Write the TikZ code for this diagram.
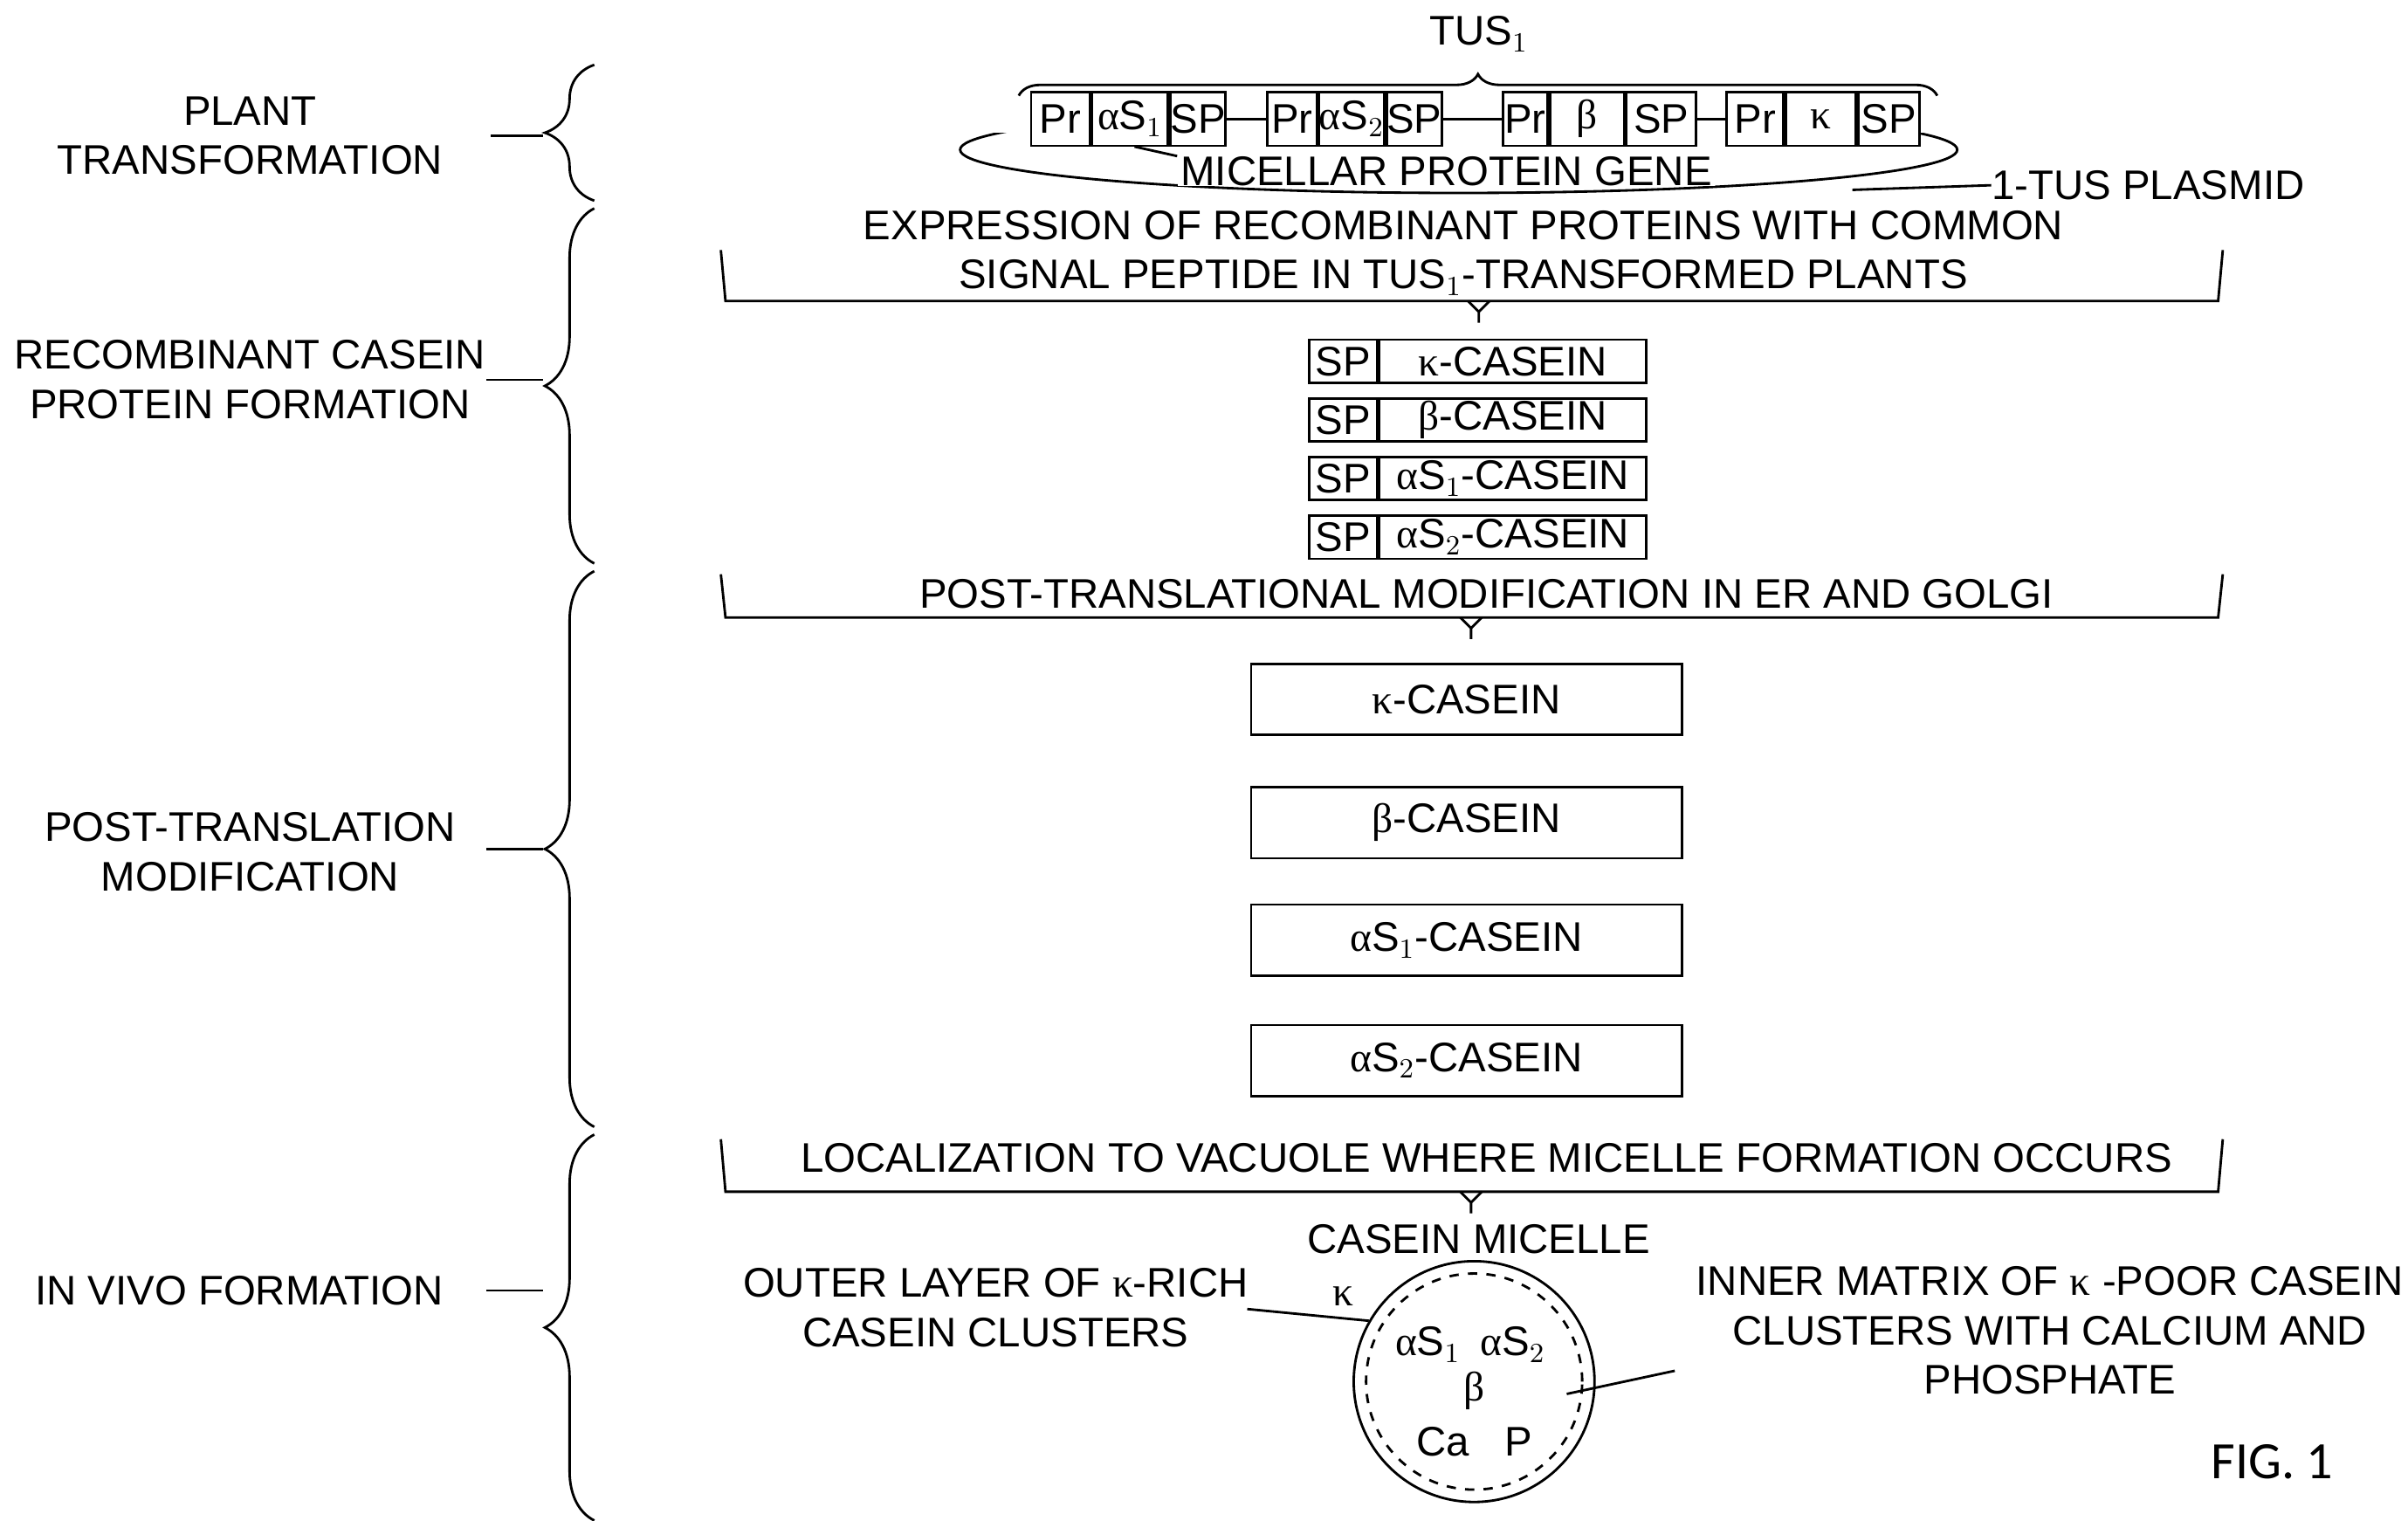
\documentclass[tikz,border=0pt]{standalone}
\usepackage{fontspec}
\setmainfont{Liberation Sans}
\newfontfamily\figfont{Carlito}
\newfontfamily\grk{Liberation Serif}
\newcommand{\ga}{{\grk α}}
\newcommand{\gb}{{\grk β}}
\newcommand{\gk}{{\grk κ}}
\usetikzlibrary{positioning,decorations.pathreplacing}
\tikzset{
  txt/.style={align=center,inner sep=0pt,font=\fontsize{13.4}{16}\selectfont},
  gbox/.style={draw,thick,inner sep=0pt,minimum height=17.5pt,font=\fontsize{13.4}{14}\selectfont},
  cbox/.style={draw,thick,inner sep=0pt,minimum height=14pt,font=\fontsize{13.4}{14}\selectfont},
  pbox/.style={draw,thick,inner sep=0pt,minimum width=139.5pt,minimum height=23pt,font=\fontsize{13.4}{14}\selectfont},
  lbrace/.style={decorate,decoration={brace,amplitude=16pt},thick},
  tick/.style={thick}
}
\newcommand{\stepbracket}[3]{% y top, y bottom, x tip
  \draw[thick] (467,#1) -- (470,#2) -- (1437,#2) -- (1440,#1);
  \draw[thick] (#3-7,#2) -- (#3,#2+7) -- (#3+7,#2) (#3,#2+7) -- (#3,#2+14);
}
\begin{document}
\begin{tikzpicture}[x=0.5pt,y=-0.5pt]
\useasboundingbox (0,0) rectangle (1560,985);

% left column
\node[txt] (plant) at (162,88) {PLANT\\TRANSFORMATION};
\node[txt] (recomb) at (162,246) {RECOMBINANT CASEIN\\PROTEIN FORMATION};
\node[txt] (post) at (162,552) {POST-TRANSLATION\\MODIFICATION};
\node[txt] (vivo) at (155,836) {IN VIVO FORMATION};
\draw[lbrace] (385,130) -- (385,42);
\draw[lbrace] (385,365) -- (385,135);
\draw[lbrace] (385,730) -- (385,370);
\draw[lbrace] (385,985) -- (385,735);
\draw[tick] (318,88) -- (352,88);
\draw[tick] (315,246) -- (352,246);
\draw[tick] (315,550) -- (352,550);
\draw[tick] (315,836) -- (352,836);

% plasmid with the gene cassette
\begin{scope}
  \clip (0,86) rectangle (1560,200);
  \draw[thick] (945,97) ellipse [x radius=323, y radius=28];
\end{scope}
\node[txt] (tus) at (958,22) {TUS$_1$};
\draw[decorate,decoration={brace,amplitude=7pt},thick] (660,62) -- (1255,62);
\node[gbox,minimum width=19pt,fill=white] (pr1) at (687,77) {Pr};
\node[gbox,minimum width=24.5pt,fill=white,right=0pt of pr1] (as1) {\ga S$_1$};
\node[gbox,minimum width=17.5pt,fill=white,right=0pt of as1] (sp1) {SP};
\node[gbox,minimum width=16pt,fill=white] (pr2) at (837,77) {Pr};
\node[gbox,minimum width=18pt,fill=white,right=0pt of pr2] (as2) {\ga S$_2$};
\node[gbox,minimum width=17pt,fill=white,right=0pt of as2] (sp2) {SP};
\node[gbox,minimum width=14.5pt,fill=white] (pr3) at (988,77) {Pr};
\node[gbox,minimum width=24pt,fill=white,right=0pt of pr3] (b3) {\gb};
\node[gbox,minimum width=22.5pt,fill=white,right=0pt of b3] (sp3) {SP};
\node[gbox,minimum width=18.5pt,fill=white] (pr4) at (1137,77) {Pr};
\node[gbox,minimum width=22.5pt,fill=white,right=0pt of pr4] (k4) {\gk};
\node[gbox,minimum width=20pt,fill=white,right=0pt of k4] (sp4) {SP};
\draw[thick] (sp1) -- (pr2) (sp2) -- (pr3) (sp3) -- (pr4);
\node[txt,fill=white,inner xsep=1pt] (gene) at (937,111) {MICELLAR PROTEIN GENE};
\coordinate (as1b) at (735,95);
\draw[thick] (as1b) -- (gene.north west);
\node[txt,anchor=west] (plasmid) at (1290,120) {1-TUS PLASMID};
\coordinate (plas) at (1200,123);
\draw[thick] (plas) -- (plasmid.west);

% expression step
\node[txt] (expr) at (948,164) {EXPRESSION OF RECOMBINANT PROTEINS WITH COMMON\\SIGNAL PEPTIDE IN TUS$_1$-TRANSFORMED PLANTS};
\stepbracket{162}{195}{958}
\foreach \n/\lab/\y in {k/\gk-CASEIN/234, b/\gb-CASEIN/272, a/\ga S$_1$-CASEIN/310, c/\ga S$_2$-CASEIN/348}{
  \node[cbox,minimum width=22pt] (sp\n) at (870,\y) {SP};
  \node[cbox,minimum width=86.5pt,right=0pt of sp\n] (c\n) {\lab};
}

% post-translational step
\node[txt] (ptm) at (963,385) {POST-TRANSLATIONAL MODIFICATION IN ER AND GOLGI};
\stepbracket{372}{400}{953}
\node[pbox] (pk) at (950,453) {\gk-CASEIN};
\node[pbox] (pb) at (950,533) {\gb-CASEIN};
\node[pbox] (pa) at (950,609) {\ga S$_1$-CASEIN};
\node[pbox] (pc) at (950,687) {\ga S$_2$-CASEIN};

% micelle formation
\node[txt] (loc) at (963,750) {LOCALIZATION TO VACUOLE WHERE MICELLE FORMATION OCCURS};
\stepbracket{738}{772}{953}
\node[txt] (cm) at (958,803) {CASEIN MICELLE};
\node[draw,thick,circle,minimum size=78pt,inner sep=0pt] (mic) at (955,895) {};
\node[draw,thick,dashed,circle,minimum size=70pt,inner sep=0pt] (core) at (955,895) {};
\node[txt] (mk) at (870,840) {\gk};
\node[txt] (ma1) at (925,871) {\ga S$_1$};
\node[txt] (ma2) at (980,871) {\ga S$_2$};
\node[txt] (mb) at (955,901) {\gb};
\node[txt] (mca) at (935,934) {Ca};
\node[txt] (mp) at (984,934) {P};
\node[txt] (outer) at (645,847) {OUTER LAYER OF \gk-RICH\\CASEIN CLUSTERS};
\node[txt] (inner) at (1328,862) {INNER MATRIX OF \gk\ -POOR CASEIN\\CLUSTERS WITH CALCIUM AND\\PHOSPHATE};
\coordinate (outp) at (808,848);
\coordinate (inp) at (1085,888);
\coordinate (inq) at (1015,903);
\draw[thick] (outp) -- (mic.150);
\draw[thick] (inp) -- (inq);
\node[font=\figfont\fontsize{17}{20}\selectfont] (fig) at (1472,947) {FIG. 1};
\end{tikzpicture}
\end{document}
